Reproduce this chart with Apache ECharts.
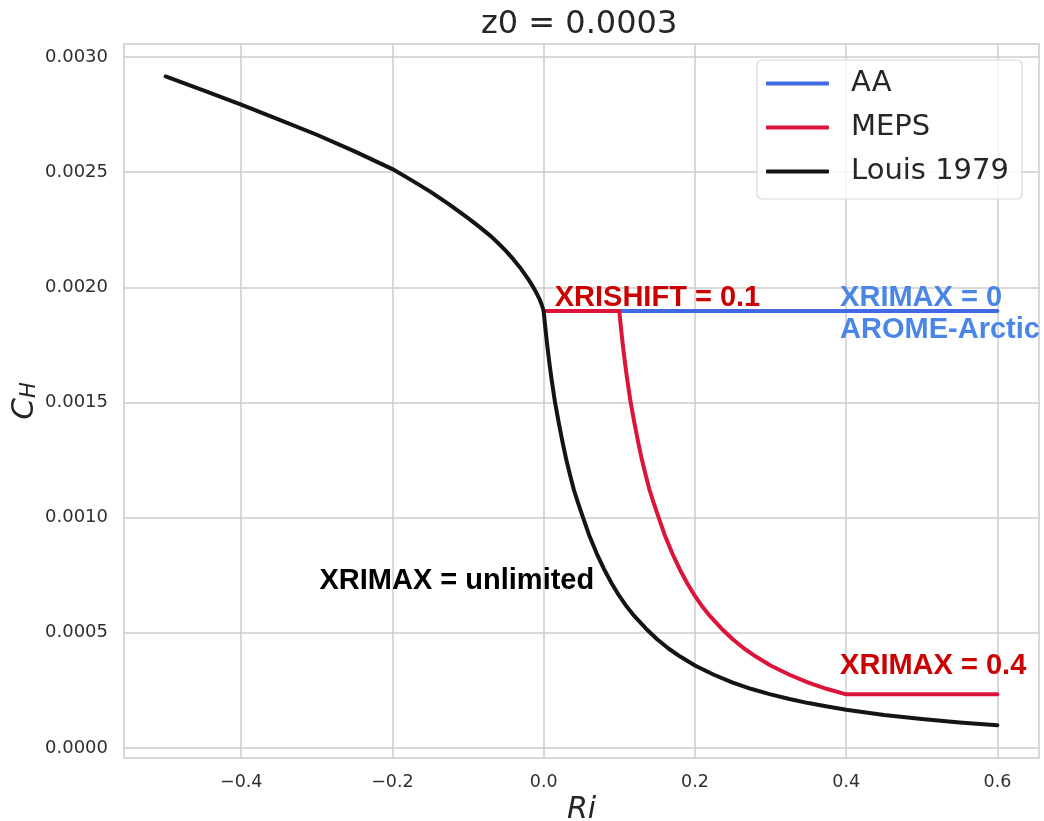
<!DOCTYPE html>
<html><head><meta charset="utf-8">
<script src="https://cdn.jsdelivr.net/npm/echarts@6/dist/echarts.min.js"></script>
<style>html,body{margin:0;padding:0;background:#fff}#chart{width:1044px;height:821px}</style>
</head><body><div id="chart"></div>
<script>
// ---- data ----
const louisRi = [-0.5,-0.45,-0.4,-0.35,-0.3,-0.25,-0.2,-0.175,-0.15,-0.125,-0.1,-0.085,-0.07,-0.06,-0.05,-0.04,-0.03,-0.02,-0.015,-0.01,-0.0075,-0.005,-0.0035,-0.002,-0.001,0,
  0.001,0.002,0.0035,0.005,0.0075,0.01,0.015,0.02,0.025,0.03,0.035,0.04,0.045,0.05,0.06,0.07,0.08,0.09,0.1,0.11,
  0.12,0.135,0.15,0.165,0.18,0.2,0.225,0.25,0.275,0.3,0.325,0.35,0.375,0.4,0.45,0.5,0.55,0.6];
const louisCH = [0.002915,0.002855,0.002793,0.002728,0.002662,0.002590,0.002513,0.002465,0.002415,0.002360,0.002300,0.002262,0.002222,0.002191,0.002158,0.002121,0.002080,0.002033,0.002007,0.001978,0.001962,0.001945,0.001932,0.001918,0.001908,0.001897,
  0.001862,0.001830,0.001783,0.001740,0.001672,0.001610,0.001500,0.001410,0.001327,0.001250,0.001183,0.001120,0.001068,0.001020,0.000925,0.000845,0.000775,0.000714,0.000660,0.000613,
  0.000572,0.000519,0.000472,0.000432,0.000398,0.000358,0.000318,0.000284,0.000256,0.000233,0.000213,0.000195,0.000180,0.000166,0.000143,0.000126,0.000111,0.000099];
const mepsRi = [0,0.1,0.101,0.102,0.1035,0.105,0.1075,0.11,0.115,0.12,0.125,0.13,0.135,0.14,0.145,0.15,0.16,0.17,0.18,0.19,
  0.2,0.21,0.22,0.235,0.25,0.265,0.28,0.3,0.325,0.35,0.375,0.4,0.6];
const mepsCH = [0.001897,0.001897,0.001862,0.001830,0.001783,0.001740,0.001672,0.001610,0.001500,0.001410,0.001327,0.001250,0.001183,0.001120,0.001068,0.001020,0.000925,0.000845,0.000775,0.000714,
  0.000660,0.000613,0.000572,0.000519,0.000472,0.000432,0.000398,0.000358,0.000318,0.000284,0.000256,0.000233,0.000233];
const aaRi = [0,0.6];
const aaCH = [0.001897,0.001897];
const seriesNames = ['AA','MEPS','Louis 1979'];
const xTicks = [-0.4,-0.2,0,0.2,0.4,0.6];
const yTicks = [0,0.0005,0.001,0.0015,0.002,0.0025,0.003];
const titleText = 'z0 = 0.0003';
const annotations = [
  {text:'XRISHIFT = 0.1', ri:0.0146, ch:0.001955, color:'#cc0000'},
  {text:'XRIMAX = 0', ri:0.392, ch:0.001955, color:'#4a86e8'},
  {text:'AROME-Arctic', ri:0.392, ch:0.001815, color:'#4a86e8'},
  {text:'XRIMAX = unlimited', ri:-0.2965, ch:0.000724, color:'#000000'},
  {text:'XRIMAX = 0.4', ri:0.392, ch:0.000355, color:'#cc0000'}
];
// --------------------------------------

const zip = (a,b) => a.map((v,i)=>[v,b[i]]);
const chart = echarts.init(document.getElementById('chart'), null, {renderer:'canvas'});
const tickColor = '#2e2e2e';
const gridColor = '#cccccc';
const fam = '"DejaVu Sans", sans-serif';

const option = {
  animation:false,
  backgroundColor:'#ffffff',
  title:{text:titleText, left:481, top:9, padding:0,
    textStyle:{fontFamily:fam, fontSize:32, fontWeight:'normal', color:'#262626'}},
  legend:{
    data:seriesNames, orient:'vertical', left:757, top:60,
    icon:'roundRect', itemWidth:63, itemHeight:4, itemGap:15,
    padding:[9,13,13,9],
    backgroundColor:'rgba(255,255,255,0.8)', borderColor:'#d9d9d9', borderWidth:1.2, borderRadius:5,
    textStyle:{fontFamily:fam, fontSize:29, lineHeight:28, color:'#262626', padding:[0,0,0,17]}
  },
  grid:{left:124, right:5, top:44, bottom:63, show:true, borderColor:gridColor, borderWidth:1.5,
    containLabel:false, outerBoundsMode:'none'},
  xAxis:{
    type:'value', min:-0.555, max:0.655,
    name:'Ri', nameLocation:'middle', nameGap:37, nameMoveOverlap:false,
    nameTextStyle:{fontFamily:fam, fontStyle:'italic', fontSize:30, color:'#262626'},
    axisLine:{show:false}, axisTick:{show:false, customValues:xTicks},
    axisLabel:{customValues:xTicks, fontFamily:fam, fontSize:17.5, color:tickColor, margin:15,
      formatter:v=>v.toFixed(1).replace('-','\u2212')},
    splitLine:{show:true, lineStyle:{color:gridColor, width:1.5}}
  },
  yAxis:{
    type:'value', min:-0.0000434, max:0.003056,
    name:'{c|C}{h|H}', nameLocation:'middle', nameRotate:90, nameGap:84, nameMoveOverlap:false,
    nameTextStyle:{rich:{
      c:{fontFamily:fam, fontStyle:'italic', fontSize:31, color:'#262626'},
      h:{fontFamily:fam, fontStyle:'italic', fontSize:21, color:'#262626', verticalAlign:'bottom'}
    }},
    axisLine:{show:false}, axisTick:{show:false, customValues:yTicks},
    axisLabel:{customValues:yTicks, fontFamily:fam, fontSize:18, color:tickColor, margin:16,
      formatter:v=>v.toFixed(4)},
    splitLine:{show:true, lineStyle:{color:gridColor, width:1.5}}
  },
  series:[
    {name:seriesNames[0], type:'line', data:zip(aaRi,aaCH), showSymbol:false, z:2, color:'#4169e1',
      lineStyle:{width:4, color:'#4169e1', cap:'round', join:'round'}},
    {name:seriesNames[1], type:'line', data:zip(mepsRi,mepsCH), showSymbol:false, z:3, color:'#dc143c',
      lineStyle:{width:4, color:'#dc143c', cap:'round', join:'round'}},
    {name:seriesNames[2], type:'line', data:zip(louisRi,louisCH), showSymbol:false, z:4, color:'#141414',
      lineStyle:{width:4, color:'#141414', cap:'round', join:'round'}}
  ]
};
chart.setOption(option);

const g = annotations.map(a=>{
  const p = chart.convertToPixel({gridIndex:0},[a.ri,a.ch]);
  return {type:'text', x:p[0], y:p[1], z:100,
    style:{text:a.text, fill:a.color, font:'bold 29px "Liberation Sans", Arial, sans-serif',
      align:'left', verticalAlign:'middle', textAlign:'left', textVerticalAlign:'middle'}};
});
chart.setOption({graphic:g});
</script></body></html>
